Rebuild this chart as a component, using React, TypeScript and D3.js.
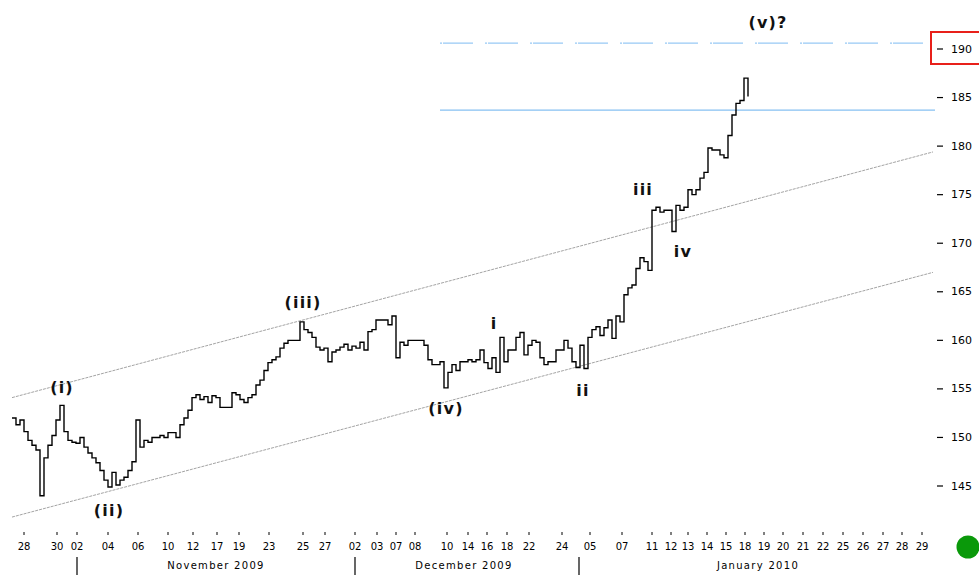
import React from "react";
import * as d3 from "d3";

// Price series (one value per bar, evenly spaced bar index)
const priceValues: number[] = [
  152.0, 151.3, 151.8, 150.6, 149.7, 149.2, 148.7, 144.0, 147.9, 149.2,
  150.2, 151.8, 153.3, 150.6, 149.7, 149.5, 149.4, 150.0, 149.0, 148.4,
  147.9, 147.4, 146.6, 145.6, 144.9, 146.4, 145.1, 145.6, 145.9, 146.6,
  147.5, 151.8, 149.0, 149.7, 149.5, 150.0, 150.0, 150.2, 150.0, 150.5,
  150.5, 150.0, 151.3, 152.0, 152.8, 154.1, 154.4, 153.9, 154.2, 153.6,
  154.3, 154.1, 153.1, 153.1, 153.1, 154.6, 154.4, 153.9, 153.6, 154.1,
  154.4, 155.4, 155.9, 156.9, 157.7, 158.0, 158.3, 159.2, 159.7, 160.0,
  160.0, 160.0, 161.9, 161.1, 160.8, 160.3, 159.3, 159.0, 159.2, 157.8,
  158.8, 159.0, 159.3, 159.6, 159.0, 159.4, 159.2, 159.8, 159.0, 160.9,
  161.1, 162.1, 162.1, 162.1, 161.6, 162.5, 158.2, 159.8, 159.5, 160.0,
  160.0, 160.0, 160.0, 159.5, 158.0, 157.5, 157.5, 157.8, 155.1, 156.7,
  157.5, 156.9, 157.8, 157.8, 158.0, 157.8, 158.0, 159.0, 157.7, 157.1,
  158.2, 156.7, 160.3, 157.8, 159.0, 159.0, 160.3, 160.8, 158.5, 159.5,
  160.0, 159.8, 158.2, 157.5, 157.8, 157.8, 159.0, 159.0, 160.0, 159.2,
  157.8, 157.2, 159.5, 157.1, 160.3, 161.1, 161.4, 160.5, 161.3, 162.1,
  160.2, 162.5, 161.9, 164.7, 165.4, 165.7, 167.4, 168.5, 168.1, 167.2,
  173.4, 173.7, 173.2, 173.4, 173.4, 171.2, 173.9, 173.4, 173.7, 175.5,
  175.0, 175.5, 176.7, 177.3, 179.8, 179.6, 179.6, 179.1, 178.8, 181.1,
  183.2, 184.4, 184.7, 187.0, 185.1,
];

// Axis extent in bar units
const barDomain: [number, number] = [0, 230.25];
const priceDomain: [number, number] = [145, 190];
const priceTicks: number[] = [145, 150, 155, 160, 165, 170, 175, 180, 185, 190];

// Day tick labels and their bar positions
const dayLabels: string[] = [
  "28", "30", "02", "04", "06", "10", "12", "17", "19", "23", "25", "27",
  "02", "03", "07", "08", "10", "14", "16", "18", "22", "24",
  "05", "07", "11", "12", "13", "14", "15", "18", "19", "20", "21", "22", "25", "26", "27", "28", "29",
];
const dayBars: number[] = [
  3, 11.25, 16.25, 24, 31.5, 39, 45.25, 51.25, 56.75, 64.25, 72.75, 78.25,
  85.75, 91.25, 96, 100.75, 108.75, 114, 118.75, 123.75, 129.25, 137.5,
  144.5, 152.5, 160, 164.75, 169, 173.75, 178.5, 183.25, 188, 192.75, 197.75, 202.75, 207.75, 212.75, 217.75, 222.5, 227.5,
];

const monthLabels: string[] = ["November 2009", "December 2009", "January 2010"];
const monthCenterBars: number[] = [51, 113, 186.5];
const monthStartBars: number[] = [16.25, 85.75, 141.75];

// Trend channel lines (bar, value)
const upperChannel: [number, number][] = [[0, 154.1], [230.25, 179.4]];
const lowerChannel: [number, number][] = [[0, 141.8], [230.25, 167.0]];

// Horizontal levels
const targetLevel = 183.7;
const projectionLevel = 190.6;
const levelBars: [number, number] = [107, 230.75];

// Elliott wave annotations
const waveText: string[] = ["(i)", "(ii)", "(iii)", "(iv)", "i", "ii", "iii", "iv", "(v)?"];
const waveBar: number[] = [12.5, 24.25, 72.75, 108.5, 120.5, 142.75, 157.75, 167.75, 189];
const waveValue: number[] = [155.1, 142.5, 163.9, 153.0, 161.7, 154.8, 175.5, 169.1, 192.7];

const highlightedTick = 190;

export default function App() {
  const W = 979;
  const H = 578;
  const x = d3.scaleLinear().domain(barDomain).range([12, 933]);
  const y = d3.scaleLinear().domain(priceDomain).range([486, 49]);

  const priceLine = d3
    .line<number>()
    .x((_, i) => x(i))
    .y((d) => y(d))
    .curve(d3.curveStepAfter)(priceValues) as string;

  const segLine = d3
    .line<[number, number]>()
    .x((d) => x(d[0]))
    .y((d) => y(d[1]));

  const font = "'DejaVu Sans', Verdana, sans-serif";
  const axisX = 937;

  return (
    <svg
      width={W}
      height={H}
      style={{ position: "absolute", left: 0, top: 0, background: "#fff" }}
      fontFamily={font}
    >
      <rect x={0} y={0} width={W} height={H} fill="#fff" />
      {/* channel */}
      <path d={segLine(upperChannel) as string} stroke="#a4a4a4" strokeWidth={1} strokeDasharray="3,1" fill="none" />
      <path d={segLine(lowerChannel) as string} stroke="#a4a4a4" strokeWidth={1} strokeDasharray="3,1" fill="none" />
      {/* levels */}
      <line x1={x(levelBars[0])} x2={x(levelBars[1])} y1={y(targetLevel)} y2={y(targetLevel)} stroke="#86c0f2" strokeWidth={1.3} />
      <line
        x1={x(levelBars[0])}
        x2={x(levelBars[1])}
        y1={y(projectionLevel)}
        y2={y(projectionLevel)}
        stroke="#98c9f5"
        strokeWidth={1.4}
        strokeDasharray="2 1 30 12"
      />
      {/* price */}
      <path d={priceLine} stroke="#000" strokeWidth={1.4} fill="none" />
      {/* wave labels */}
      {waveText.map((t, i) => (
        <text
          key={"w" + i}
          x={x(waveBar[i])}
          y={y(waveValue[i])}
          textAnchor="middle"
          dominantBaseline="central"
          fontSize={16}
          fontWeight="bold"
          letterSpacing={1.2}
          fill="#111"
        >
          {t}
        </text>
      ))}
      {/* right axis */}
      {priceTicks.map((v) => (
        <g key={"t" + v}>
          <line x1={axisX} x2={axisX + 6} y1={y(v)} y2={y(v)} stroke="#000" strokeWidth={1.2} />
          <text x={axisX + 14} y={y(v)} dominantBaseline="central" fontSize={11} fill="#000">
            {v}
          </text>
        </g>
      ))}
      <rect x={931} y={y(highlightedTick) - 17} width={60} height={32} fill="none" stroke="#e8201a" strokeWidth={2} />
      {/* bottom axis */}
      {dayLabels.map((d, i) => (
        <g key={"d" + i}>
          <line x1={x(dayBars[i])} x2={x(dayBars[i])} y1={532} y2={535} stroke="#000" strokeWidth={1} />
          <text x={x(dayBars[i])} y={550} textAnchor="middle" fontSize={10} fill="#000">
            {d}
          </text>
        </g>
      ))}
      {monthLabels.map((m, i) => (
        <text key={"m" + i} x={x(monthCenterBars[i])} y={569} textAnchor="middle" fontSize={10} letterSpacing={1.3} fill="#000">
          {m}
        </text>
      ))}
      {monthStartBars.map((b, i) => (
        <line key={"s" + i} x1={x(b)} x2={x(b)} y1={557} y2={575} stroke="#000" strokeWidth={1.2} />
      ))}
      <circle cx={968} cy={547} r={11.5} fill="#0a990a" />
    </svg>
  );
}
